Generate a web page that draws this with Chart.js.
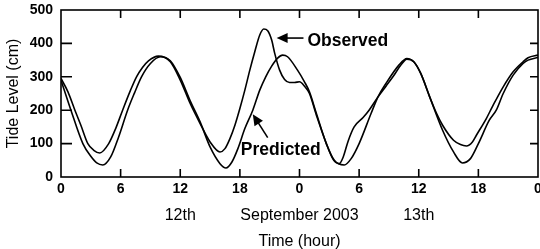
<!DOCTYPE html>
<html>
<head>
<meta charset="utf-8">
<script src="https://cdn.jsdelivr.net/npm/chart.js@4/dist/chart.umd.min.js"></script>
<style>
  html, body { margin: 0; padding: 0; background: #fff; }
  #wrap { width: 540px; height: 249px; }
</style>
</head>
<body>
<div id="wrap"><canvas id="tide"></canvas></div>
<script>
// hours since 0:00 on the 12th, tide level in cm
const obsHours  = [0, 0.7, 1.4, 2, 2.7, 3.3, 3.9, 4.8, 5.5, 6.2, 7, 7.6, 8.2, 8.8, 9.8, 11, 12, 13, 14, 15, 16, 16.5, 17, 17.5, 18, 18.5, 19, 19.5, 20, 20.4, 20.8, 21.2, 21.5, 22, 22.5, 23, 23.5, 24, 24.5, 25, 25.7, 26.7, 27.4, 28, 28.4, 28.9, 29.5, 30.4, 31, 31.9, 32.7, 33.4, 34.2, 34.8, 35.5, 36.2, 37.1, 37.8, 38.4, 39.5, 40.2, 40.8, 41.4, 41.8, 42.8, 43.4, 44.5, 45.5, 46.5, 47, 48];
const obsLevels = [295, 255, 200, 155, 100, 80, 72, 100, 145, 200, 260, 300, 328, 348, 362, 345, 290, 220, 160, 105, 75, 85, 115, 155, 205, 260, 320, 375, 425, 443, 438, 410, 371, 320, 292, 283, 283, 285, 272, 250, 185, 100, 52, 40, 60, 108, 150, 178, 200, 240, 272, 300, 335, 353, 345, 310, 240, 190, 155, 110, 97, 93, 105, 125, 175, 210, 270, 315, 345, 357, 365];

const predHours  = [0, 1, 2.2, 3, 3.6, 4.2, 5, 5.8, 6.7, 7.4, 8.1, 9, 10, 11, 12, 13, 14, 15, 16, 16.6, 17.2, 17.8, 18.5, 19.3, 20, 20.6, 21.2, 21.8, 22.3, 22.8, 23.8, 24.5, 25, 25.7, 26.7, 27.5, 28.5, 29.2, 30, 31.2, 31.9, 32.7, 34, 34.8, 35.5, 36.2, 37.1, 38.4, 39.5, 40.4, 41.2, 42, 43.1, 43.8, 44.5, 45.5, 46.5, 47, 48];
const predLevels = [290, 200, 100, 62, 42, 36, 60, 120, 200, 252, 300, 340, 360, 348, 298, 228, 165, 90, 40, 27, 45, 85, 145, 200, 260, 300, 332, 356, 365, 360, 320, 285, 255, 190, 100, 50, 36, 55, 100, 190, 240, 280, 335, 355, 345, 310, 240, 140, 75, 42, 55, 100, 170, 200, 250, 305, 340, 350, 358];

const xTickValues = [0, 6, 12, 18, 24, 30, 36, 42, 48];
const yTickValues = [0, 100, 200, 300, 400, 500];
const dateLabels = [
  { hour: 12, text: '12th' },
  { hour: 24, text: 'September 2003' },
  { hour: 36, text: '13th' }
];

const FONT = '"Liberation Sans", Arial, Helvetica, sans-serif';

const framePlugin = {
  id: 'frame',
  afterDraw(chart) {
    const { ctx, chartArea: a, scales: { x, y } } = chart;
    ctx.save();
    ctx.strokeStyle = '#000';
    ctx.lineWidth = 1.6;
    ctx.strokeRect(a.left, a.top, a.right - a.left, a.bottom - a.top);

    // inward tick marks on all four sides
    const tl = 8;
    ctx.beginPath();
    xTickValues.slice(1, -1).forEach(v => {
      const px = x.getPixelForValue(v);
      ctx.moveTo(px, a.bottom); ctx.lineTo(px, a.bottom - tl);
      ctx.moveTo(px, a.top); ctx.lineTo(px, a.top + tl);
    });
    yTickValues.slice(1, -1).forEach(v => {
      const py = y.getPixelForValue(v);
      ctx.moveTo(a.left, py); ctx.lineTo(a.left + 11, py);
      ctx.moveTo(a.right, py); ctx.lineTo(a.right - tl, py);
    });
    ctx.stroke();

    // date line under the hour ticks
    ctx.fillStyle = '#000';
    ctx.font = '16px ' + FONT;
    ctx.textAlign = 'center';
    ctx.textBaseline = 'middle';
    dateLabels.forEach(d => ctx.fillText(d.text, x.getPixelForValue(d.hour), 216));
    ctx.fillText('Time (hour)', x.getPixelForValue(24), 242);

    // axis title
    ctx.save();
    ctx.translate(14, (a.top + a.bottom) / 2);
    ctx.rotate(-Math.PI / 2);
    ctx.fillText('Tide Level (cm)', 0, 0);
    ctx.restore();

    // callouts
    const arrow = (h0, v0, h1, v1) => {
      const x0 = x.getPixelForValue(h0), y0 = y.getPixelForValue(v0);
      const x1 = x.getPixelForValue(h1), y1 = y.getPixelForValue(v1);
      const ang = Math.atan2(y1 - y0, x1 - x0);
      const hl = 11, hw = 5;
      ctx.beginPath();
      ctx.lineWidth = 1.6;
      ctx.moveTo(x0, y0);
      ctx.lineTo(x1 - Math.cos(ang) * hl * 0.8, y1 - Math.sin(ang) * hl * 0.8);
      ctx.stroke();
      ctx.beginPath();
      ctx.moveTo(x1, y1);
      ctx.lineTo(x1 - Math.cos(ang) * hl - Math.sin(ang) * hw, y1 - Math.sin(ang) * hl + Math.cos(ang) * hw);
      ctx.lineTo(x1 - Math.cos(ang) * hl + Math.sin(ang) * hw, y1 - Math.sin(ang) * hl - Math.cos(ang) * hw);
      ctx.closePath();
      ctx.fill();
    };
    ctx.font = 'bold 17.5px ' + FONT;
    ctx.textAlign = 'left';
    ctx.fillText('Observed', x.getPixelForValue(24.8), y.getPixelForValue(408));
    arrow(24.4, 416, 21.7, 416);
    ctx.fillText('Predicted', x.getPixelForValue(18.1), y.getPixelForValue(80));
    arrow(20.8, 118, 19.3, 188);
    ctx.restore();
  }
};

const lineStyle = {
  borderColor: '#000',
  borderWidth: 1.6,
  pointRadius: 0,
  fill: false,
  cubicInterpolationMode: 'monotone'
};

new Chart(document.getElementById('tide'), {
  type: 'line',
  data: {
    datasets: [
      { label: 'Observed', data: obsHours.map((h, i) => ({ x: h, y: obsLevels[i] })), ...lineStyle },
      { label: 'Predicted', data: predHours.map((h, i) => ({ x: h, y: predLevels[i] })), ...lineStyle }
    ]
  },
  options: {
    responsive: true,
    maintainAspectRatio: false,
    animation: false,
    layout: { padding: { top: 10, right: 2, left: 0, bottom: 0 } },
    plugins: { legend: { display: false }, tooltip: { enabled: false } },
    scales: {
      x: {
        type: 'linear',
        min: 0,
        max: 48,
        grid: { display: false, drawTicks: false },
        border: { display: false },
        afterBuildTicks: s => { s.ticks = xTickValues.map(v => ({ value: v })); },
        ticks: {
          color: '#000',
          padding: 4,
          maxRotation: 0,
          autoSkip: false,
          font: { family: FONT, size: 14, weight: 'bold' },
          callback: v => String(v % 24)
        },
        afterFit: s => { s.height = 72; s.paddingLeft = 0; s.paddingRight = 0; }
      },
      y: {
        min: 0,
        max: 500,
        grid: { display: false, drawTicks: false },
        border: { display: false },
        afterBuildTicks: s => { s.ticks = yTickValues.map(v => ({ value: v })); },
        ticks: {
          color: '#000',
          padding: 8,
          font: { family: FONT, size: 14, weight: 'bold' }
        },
        afterFit: s => { s.width = 61; s.paddingTop = 0; s.paddingBottom = 0; }
      }
    }
  },
  plugins: [framePlugin]
});
</script>
</body>
</html>
